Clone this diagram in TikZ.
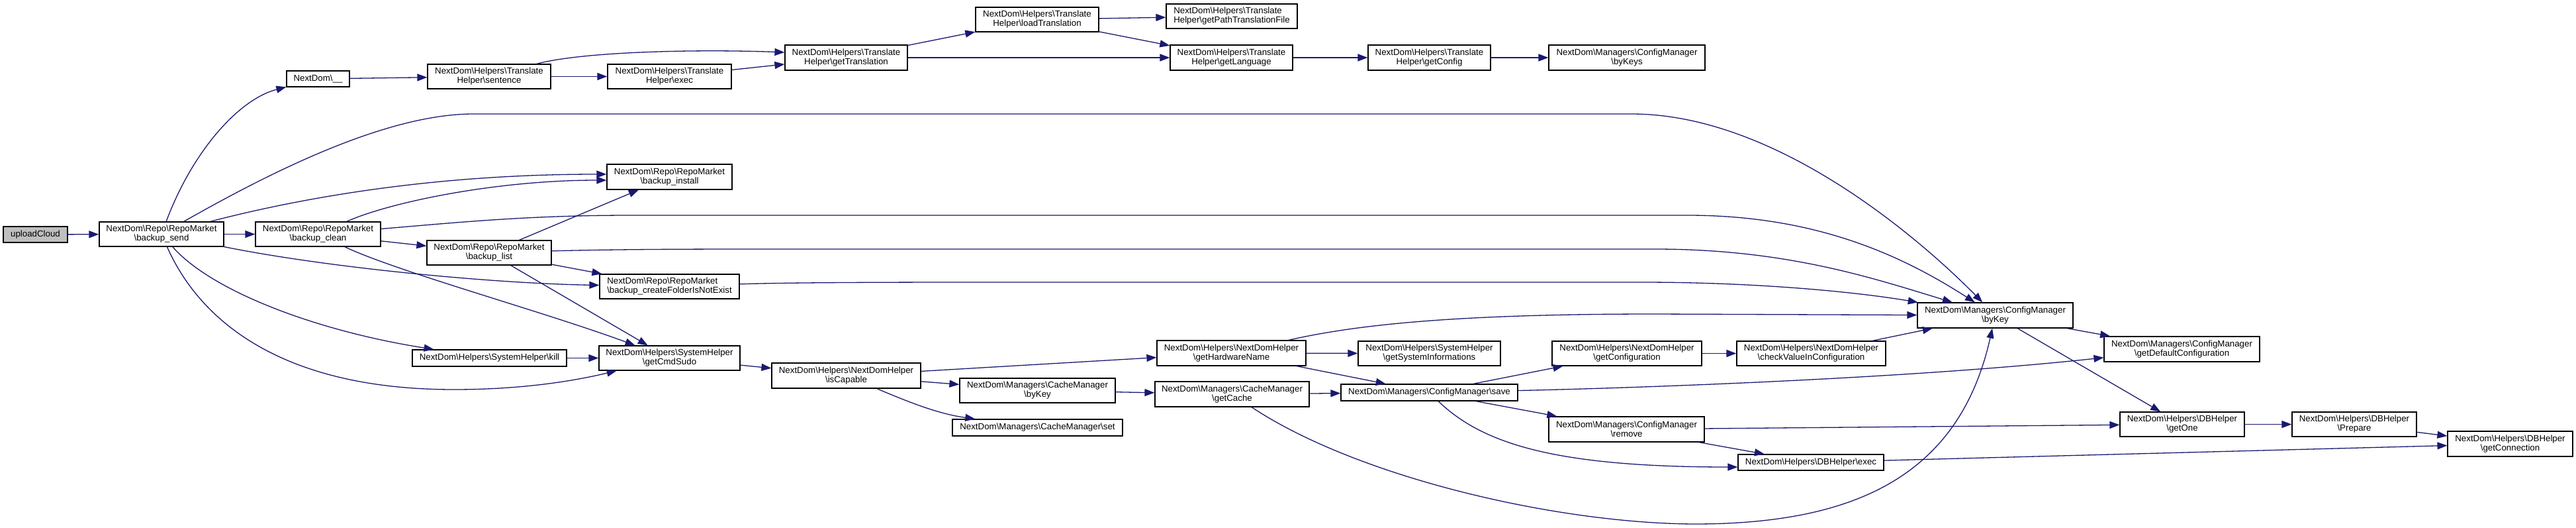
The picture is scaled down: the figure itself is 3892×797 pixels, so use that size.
\documentclass[tikz,border=0pt]{standalone}
\usepackage{fontspec}
\setmainfont{Liberation Sans}
\usetikzlibrary{arrows.meta}
\definecolor{edgec}{HTML}{191970}
\definecolor{rootfill}{HTML}{BFBFBF}
\newcommand\Bk{\textbackslash}
\begin{document}
\begin{tikzpicture}[x=1pt,y=-1pt,
  box/.style={draw=black, fill=white, line width=1.2pt, inner sep=0pt, align=center,
    font=\fontsize{13.3}{14}\selectfont, text=black},
  lbox/.style={box, align=left},
  edge/.style={draw=edgec, line width=1.3pt, -{Triangle[length=15pt,width=11pt]}}]
\useasboundingbox (0,0) rectangle (3892,797);
% nodes
\node[box, fill=rootfill, minimum width=97pt, minimum height=24pt] (uc) at (53.5,354) {uploadCloud};
\node[box, minimum width=188pt, minimum height=37pt] (bs) at (244,353.5) {NextDom\Bk Repo\Bk RepoMarket\\\Bk backup\_send};
\node[box, minimum width=189pt, minimum height=37pt] (bc) at (480.5,353.5) {NextDom\Bk Repo\Bk RepoMarket\\\Bk backup\_clean};
\node[box, minimum width=95pt, minimum height=24pt] (us) at (480.5,119) {NextDom\Bk\_\_};
\node[box, minimum width=186pt, minimum height=37pt] (sen) at (739,115.5) {NextDom\Bk Helpers\Bk Translate\\Helper\Bk sentence};
\node[box, minimum width=187pt, minimum height=37pt] (tex) at (1011.5,115.5) {NextDom\Bk Helpers\Bk Translate\\Helper\Bk exec};
\node[box, minimum width=185pt, minimum height=38pt] (gtr) at (1278.5,87) {NextDom\Bk Helpers\Bk Translate\\Helper\Bk getTranslation};
\node[box, minimum width=186pt, minimum height=37pt] (ltr) at (1567,29.5) {NextDom\Bk Helpers\Bk Translate\\Helper\Bk loadTranslation};
\node[lbox, minimum width=198pt, minimum height=37pt] (gptf) at (1861,24.5) {NextDom\Bk Helpers\Bk Translate\\Helper\Bk getPathTranslationFile};
\node[box, minimum width=185pt, minimum height=38pt] (glang) at (1860.5,87) {NextDom\Bk Helpers\Bk Translate\\Helper\Bk getLanguage};
\node[box, minimum width=185pt, minimum height=38pt] (gcfg) at (2159.5,87) {NextDom\Bk Helpers\Bk Translate\\Helper\Bk getConfig};
\node[box, minimum width=236pt, minimum height=38pt] (bks) at (2458,87) {NextDom\Bk Managers\Bk ConfigManager\\\Bk byKeys};
\node[box, minimum width=189pt, minimum height=38pt] (bi) at (1011.5,267) {NextDom\Bk Repo\Bk RepoMarket\\\Bk backup\_install};
\node[box, minimum width=188pt, minimum height=37pt] (bl) at (739,381.5) {NextDom\Bk Repo\Bk RepoMarket\\\Bk backup\_list};
\node[lbox, minimum width=211pt, minimum height=37pt] (cf) at (1011.5,432.5) {NextDom\Bk Repo\Bk RepoMarket\\\Bk backup\_createFolderIsNotExist};
\node[box, minimum width=233pt, minimum height=25pt] (kill) at (739.5,540.5) {NextDom\Bk Helpers\Bk SystemHelper\Bk kill};
\node[box, minimum width=213pt, minimum height=37pt] (cs) at (1011.5,540.5) {NextDom\Bk Helpers\Bk SystemHelper\\\Bk getCmdSudo};
\node[box, minimum width=225pt, minimum height=38pt] (ic) at (1278.5,567) {NextDom\Bk Helpers\Bk NextDomHelper\\\Bk isCapable};
\node[box, minimum width=235pt, minimum height=37pt] (cbk) at (1567.5,589.5) {NextDom\Bk Managers\Bk CacheManager\\\Bk byKey};
\node[box, minimum width=257pt, minimum height=25pt] (cset) at (1567.5,645.5) {NextDom\Bk Managers\Bk CacheManager\Bk set};
\node[box, minimum width=225pt, minimum height=38pt] (ghn) at (1860.5,533) {NextDom\Bk Helpers\Bk NextDomHelper\\\Bk getHardwareName};
\node[box, minimum width=233pt, minimum height=38pt] (gca) at (1861.5,595) {NextDom\Bk Managers\Bk CacheManager\\\Bk getCache};
\node[box, minimum width=215pt, minimum height=37pt] (gsi) at (2159.5,533.5) {NextDom\Bk Helpers\Bk SystemHelper\\\Bk getSystemInformations};
\node[box, minimum width=267pt, minimum height=25pt] (save) at (2159.5,592.5) {NextDom\Bk Managers\Bk ConfigManager\Bk save};
\node[box, minimum width=226pt, minimum height=37pt] (gconf) at (2458,533.5) {NextDom\Bk Helpers\Bk NextDomHelper\\\Bk getConfiguration};
\node[box, minimum width=235pt, minimum height=38pt] (rem) at (2457.5,648) {NextDom\Bk Managers\Bk ConfigManager\\\Bk remove};
\node[box, minimum width=235pt, minimum height=38pt] (cmbk) at (3014.5,476) {NextDom\Bk Managers\Bk ConfigManager\\\Bk byKey};
\node[box, minimum width=225pt, minimum height=37pt] (cvic) at (2736.5,533.5) {NextDom\Bk Helpers\Bk NextDomHelper\\\Bk checkValueInConfiguration};
\node[box, minimum width=220pt, minimum height=24pt] (dbx) at (2736,698) {NextDom\Bk Helpers\Bk DBHelper\Bk exec};
\node[box, minimum width=235pt, minimum height=38pt] (gdc) at (3296.5,527) {NextDom\Bk Managers\Bk ConfigManager\\\Bk getDefaultConfiguration};
\node[box, minimum width=188pt, minimum height=37pt] (go) at (3297,640.5) {NextDom\Bk Helpers\Bk DBHelper\\\Bk getOne};
\node[box, minimum width=188pt, minimum height=37pt] (prep) at (3557,640.5) {NextDom\Bk Helpers\Bk DBHelper\\\Bk Prepare};
\node[box, minimum width=189pt, minimum height=38pt] (gcon) at (3792.5,670) {NextDom\Bk Helpers\Bk DBHelper\\\Bk getConnection};
% edges
\draw[edge] (uc) -- (bs);
\draw[edge] (bs) .. controls (290,230) and (360,150) .. (us);
\draw[edge] (bs) .. controls (400,265) and (580,172) .. (715,172) -- (2465,172) .. controls (2700,172) and (2930,390) .. (cmbk);
\draw[edge] (bs) .. controls (450,300) and (650,263) .. ([yshift=4pt]bi.west);
\draw[edge] (bs) -- (bc);
\draw[edge] (bs) .. controls (500,405) and (750,428) .. ([yshift=2pt]cf.west);
\draw[edge] (bs) .. controls (320,440) and (480,500) .. (kill);
\draw[edge] (bs) .. controls (300,480) and (420,588) .. (686,588) .. controls (800,588) and (880,572) .. (cs);
\draw[edge] (bc) .. controls (590,305) and (750,272) .. ([yshift=-5pt]bi.west);
\draw[edge] (bc) .. controls (700,335) and (800,325) .. (954,325) -- (2550,325) .. controls (2750,325) and (2880,390) .. (cmbk);
\draw[edge] (bc) -- (bl);
\draw[edge] (bc) .. controls (600,410) and (820,470) .. (cs);
\draw[edge] (bl) -- (bi);
\draw[edge] (bl) .. controls (900,377) and (1000,376) .. (1130,376) -- (2500,376) .. controls (2700,376) and (2830,420) .. (cmbk);
\draw[edge] (bl) -- (cf);
\draw[edge] (bl) -- (cs);
\draw[edge] (cf) .. controls (1200,426) and (1400,426) .. (1500,426) -- (2480,426) .. controls (2650,426) and (2800,440) .. (cmbk);
\draw[edge] (kill) -- (cs);
\draw[edge] (cs) -- (ic);
\draw[edge] (ic) -- (ghn);
\draw[edge] (ic) -- (cbk);
\draw[edge] (ic) .. controls (1380,610) and (1420,625) .. (cset);
\draw[edge] (cbk) -- (gca);
\draw[edge] (gca) -- (save);
\draw[edge] (gca) .. controls (2050,720) and (2350,790) .. (2560,791) .. controls (2800,791) and (2960,720) .. (cmbk);
\draw[edge] (ghn) -- (gsi);
\draw[edge] (ghn) -- (save);
\draw[edge] (ghn) .. controls (2050,490) and (2200,474) .. (2500,474) -- (cmbk);
\draw[edge] (save) -- (gconf);
\draw[edge] (save) .. controls (2500,585) and (2900,570) .. (gdc);
\draw[edge] (save) -- (rem);
\draw[edge] (save) .. controls (2240,670) and (2350,705) .. ([yshift=-7pt]dbx.west);
\draw[edge] (gconf) -- (cvic);
\draw[edge] (cvic) -- (cmbk);
\draw[edge] (rem) -- (go);
\draw[edge] (rem) -- (dbx);
\draw[edge] (dbx) -- (gcon);
\draw[edge] (cmbk) -- (gdc);
\draw[edge] (cmbk) -- (go);
\draw[edge] (go) -- (prep);
\draw[edge] (prep) -- (gcon);
\draw[edge] (us) -- (sen);
\draw[edge] (sen) -- (tex);
\draw[edge] (sen) .. controls (880,78) and (1050,74) .. ([yshift=8pt]gtr.west);
\draw[edge] (tex) -- (gtr);
\draw[edge] (gtr) -- (ltr);
\draw[edge] (gtr) -- (glang);
\draw[edge] (ltr) -- (gptf);
\draw[edge] (ltr) -- (glang);
\draw[edge] (glang) -- (gcfg);
\draw[edge] (gcfg) -- (bks);
\end{tikzpicture}
\end{document}
